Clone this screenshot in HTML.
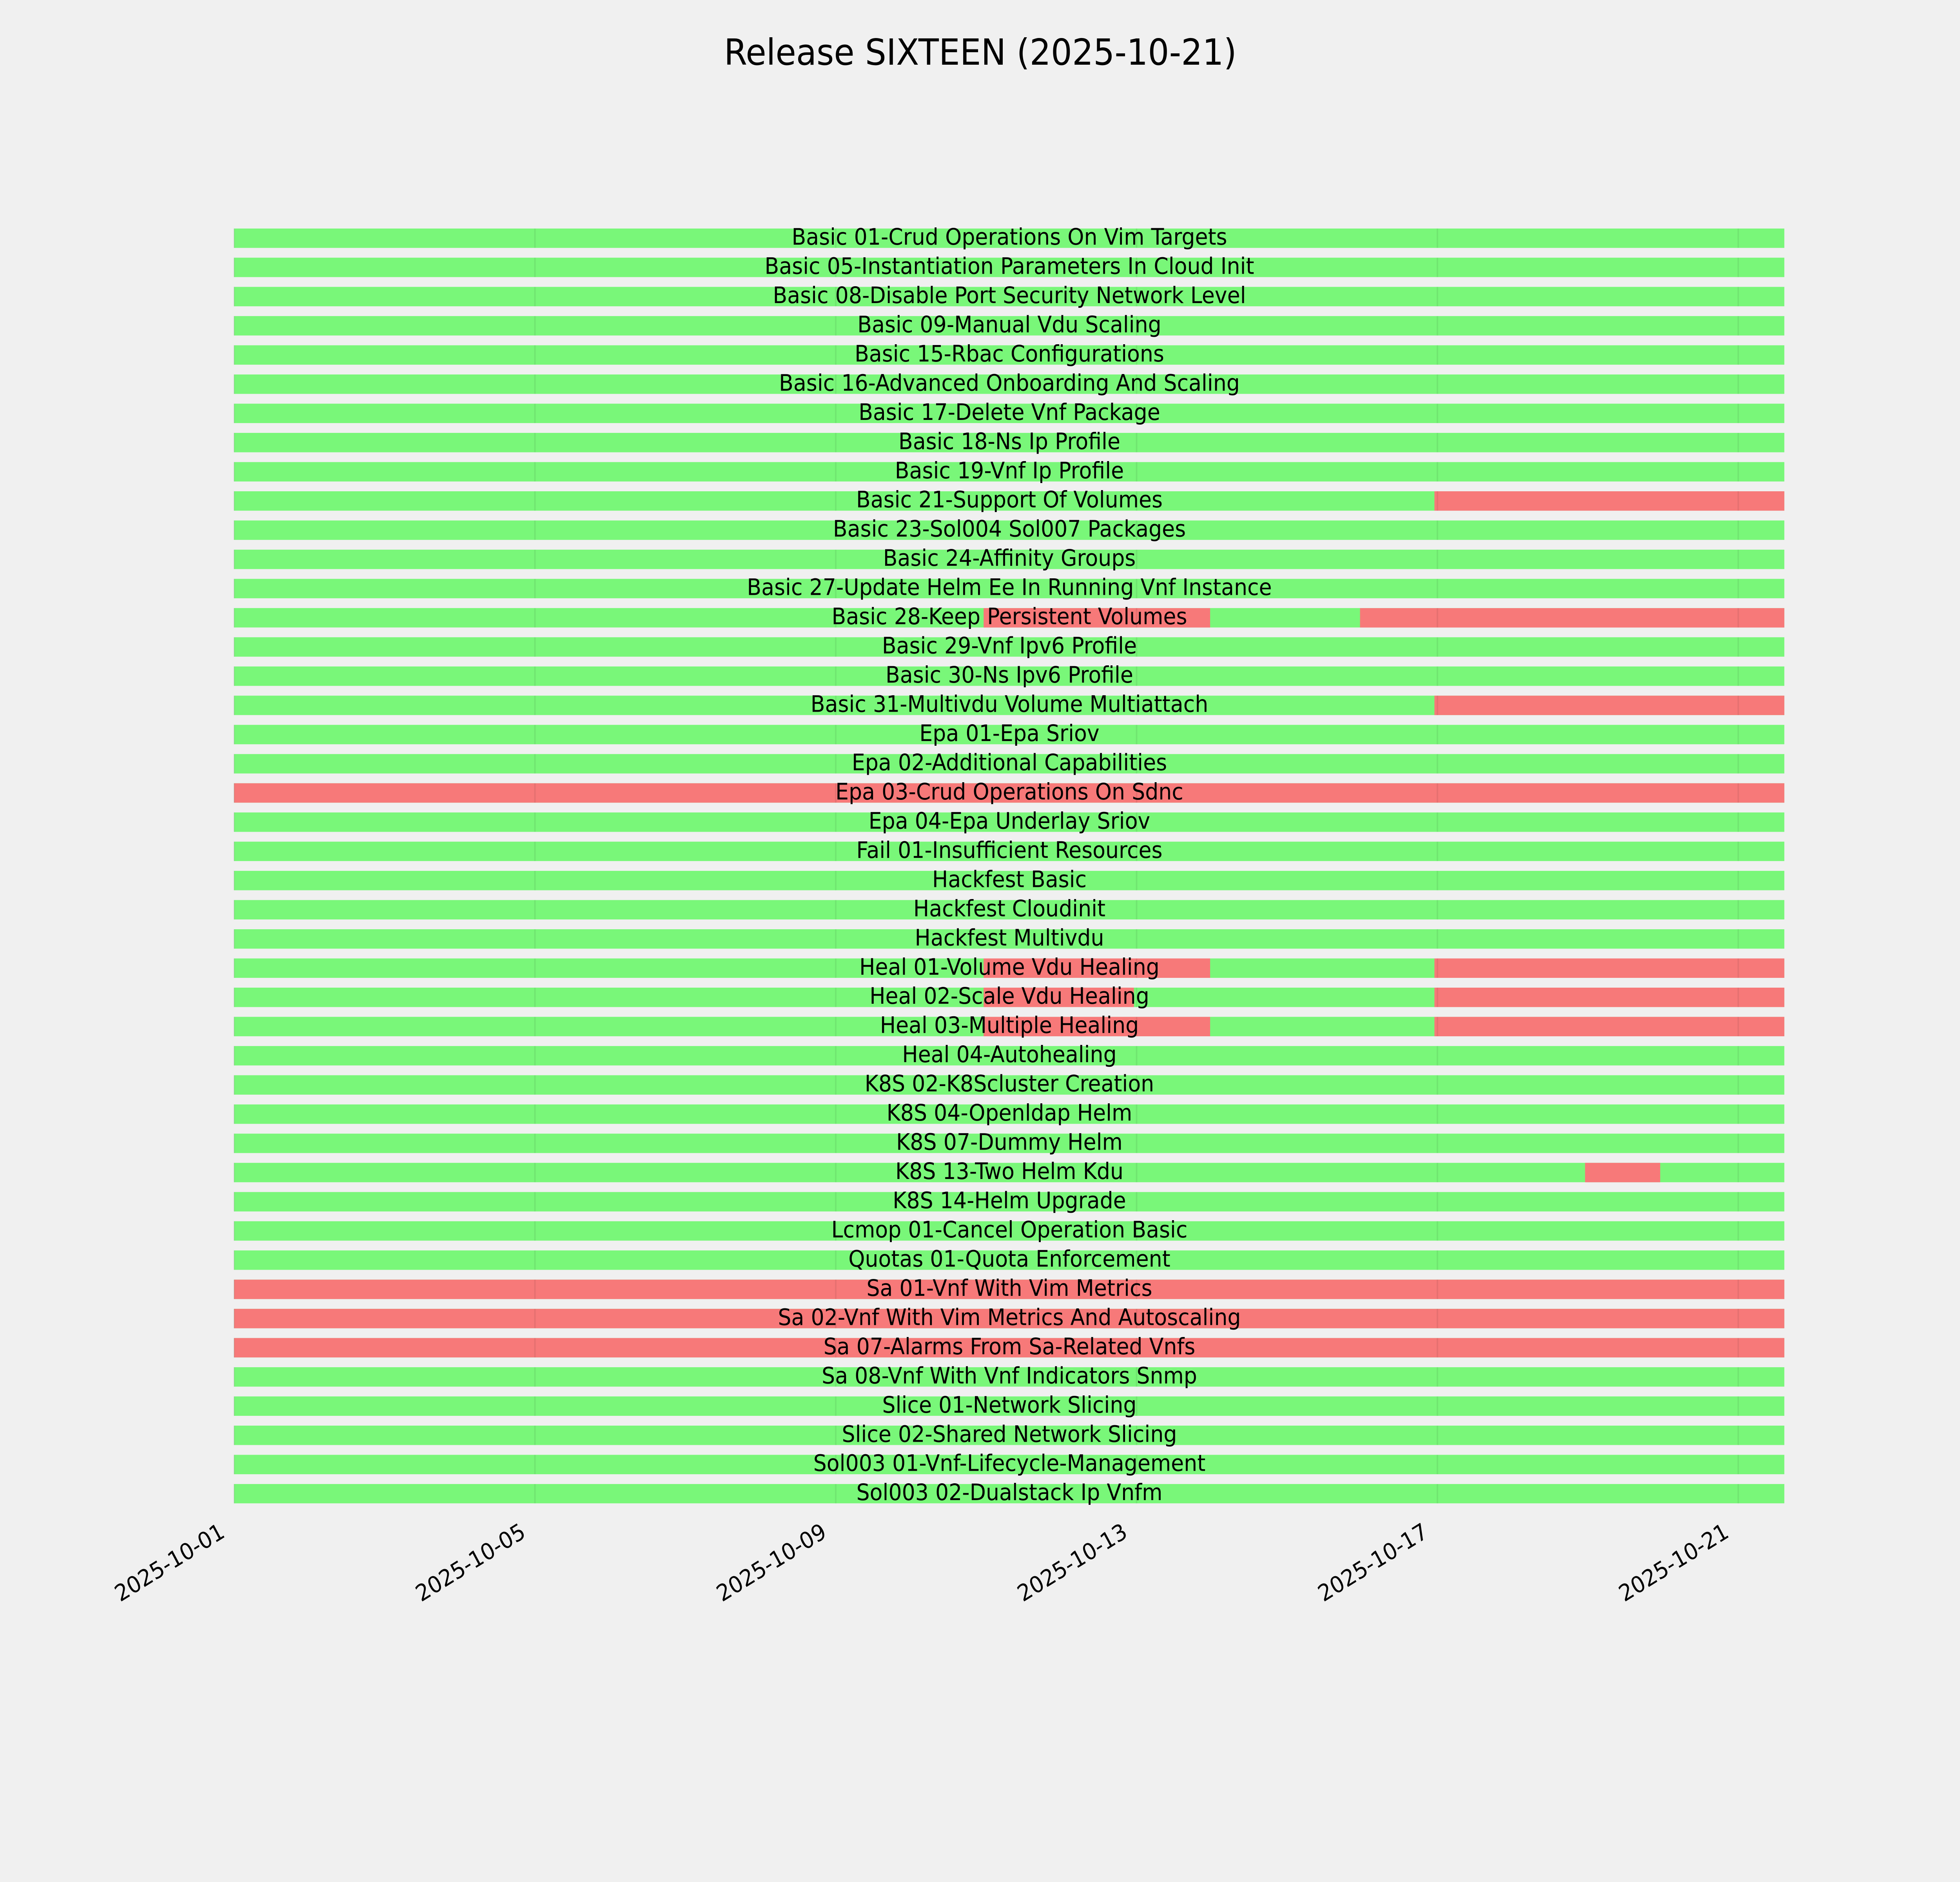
<!DOCTYPE html>
<html><head><meta charset="utf-8"><style>
html,body{margin:0;padding:0;background:#f0f0f0;width:100%;height:100%;overflow:hidden;}
svg{display:block;position:absolute;left:0;top:0;width:100vw;height:100vh;}
text{font-family:"DejaVu Sans","Liberation Sans",sans-serif;fill:#000;}
</style></head><body>
<svg viewBox="0 0 5400 4800" preserveAspectRatio="none" xmlns="http://www.w3.org/2000/svg">
<defs>
<pattern id="gbar" patternUnits="userSpaceOnUse" x="0" y="582.75" width="5400" height="74.47">
<rect x="0" y="0" width="5400" height="49.5" fill="#79f779"/>
</pattern>
<pattern id="grid" patternUnits="userSpaceOnUse" x="643" y="582.75" width="828.8" height="74.47">
<rect x="0" y="0" width="4" height="49.5" fill="#000" fill-opacity="0.07"/>
</pattern>
</defs>
<rect width="5400" height="4800" fill="#f0f0f0"/>
<text x="2701" y="165" font-size="92" text-anchor="middle">Release SIXTEEN (2025-10-21)</text>
<rect x="645" y="582.75" width="4271" height="3251.5" fill="url(#gbar)"/>
<g fill="#f77979">
<rect x="3952" y="1253" width="964" height="49.5"/>
<rect x="2710" y="1551" width="624" height="49.5"/>
<rect x="3747" y="1551" width="1169" height="49.5"/>
<rect x="3952" y="1774.3" width="964" height="49.5"/>
<rect x="645" y="1997.7" width="4271" height="49.5"/>
<rect x="2710" y="2444.5" width="624" height="49.5"/>
<rect x="3952" y="2444.5" width="964" height="49.5"/>
<rect x="2710" y="2519" width="414" height="49.5"/>
<rect x="3952" y="2519" width="964" height="49.5"/>
<rect x="2710" y="2593.5" width="624" height="49.5"/>
<rect x="3952" y="2593.5" width="964" height="49.5"/>
<rect x="4367" y="2965.8" width="207" height="49.5"/>
<rect x="645" y="3263.7" width="4271" height="49.5"/>
<rect x="645" y="3338.2" width="4271" height="49.5"/>
<rect x="645" y="3412.6" width="4271" height="49.5"/>
</g>
<rect x="643" y="582.75" width="4273" height="3251.5" fill="url(#grid)"/>
<g font-size="58" text-anchor="middle">
<text x="2781" y="624">Basic 01-Crud Operations On Vim Targets</text>
<text x="2781" y="698.5">Basic 05-Instantiation Parameters In Cloud Init</text>
<text x="2781" y="772.9">Basic 08-Disable Port Security Network Level</text>
<text x="2781" y="847.4">Basic 09-Manual Vdu Scaling</text>
<text x="2781" y="921.9">Basic 15-Rbac Configurations</text>
<text x="2781" y="996.4">Basic 16-Advanced Onboarding And Scaling</text>
<text x="2781" y="1070.8">Basic 17-Delete Vnf Package</text>
<text x="2781" y="1145.3">Basic 18-Ns Ip Profile</text>
<text x="2781" y="1219.8">Basic 19-Vnf Ip Profile</text>
<text x="2781" y="1294.2">Basic 21-Support Of Volumes</text>
<text x="2781" y="1368.7">Basic 23-Sol004 Sol007 Packages</text>
<text x="2781" y="1443.2">Basic 24-Affinity Groups</text>
<text x="2781" y="1517.6">Basic 27-Update Helm Ee In Running Vnf Instance</text>
<text x="2781" y="1592.1">Basic 28-Keep Persistent Volumes</text>
<text x="2781" y="1666.6">Basic 29-Vnf Ipv6 Profile</text>
<text x="2781" y="1741.1">Basic 30-Ns Ipv6 Profile</text>
<text x="2781" y="1815.5">Basic 31-Multivdu Volume Multiattach</text>
<text x="2781" y="1890">Epa 01-Epa Sriov</text>
<text x="2781" y="1964.5">Epa 02-Additional Capabilities</text>
<text x="2781" y="2038.9">Epa 03-Crud Operations On Sdnc</text>
<text x="2781" y="2113.4">Epa 04-Epa Underlay Sriov</text>
<text x="2781" y="2187.9">Fail 01-Insufficient Resources</text>
<text x="2781" y="2262.3">Hackfest Basic</text>
<text x="2781" y="2336.8">Hackfest Cloudinit</text>
<text x="2781" y="2411.3">Hackfest Multivdu</text>
<text x="2781" y="2485.8">Heal 01-Volume Vdu Healing</text>
<text x="2781" y="2560.2">Heal 02-Scale Vdu Healing</text>
<text x="2781" y="2634.7">Heal 03-Multiple Healing</text>
<text x="2781" y="2709.2">Heal 04-Autohealing</text>
<text x="2781" y="2783.6">K8S 02-K8Scluster Creation</text>
<text x="2781" y="2858.1">K8S 04-Openldap Helm</text>
<text x="2781" y="2932.6">K8S 07-Dummy Helm</text>
<text x="2781" y="3007">K8S 13-Two Helm Kdu</text>
<text x="2781" y="3081.5">K8S 14-Helm Upgrade</text>
<text x="2781" y="3156">Lcmop 01-Cancel Operation Basic</text>
<text x="2781" y="3230.5">Quotas 01-Quota Enforcement</text>
<text x="2781" y="3304.9">Sa 01-Vnf With Vim Metrics</text>
<text x="2781" y="3379.4">Sa 02-Vnf With Vim Metrics And Autoscaling</text>
<text x="2781" y="3453.9">Sa 07-Alarms From Sa-Related Vnfs</text>
<text x="2781" y="3528.3">Sa 08-Vnf With Vnf Indicators Snmp</text>
<text x="2781" y="3602.8">Slice 01-Network Slicing</text>
<text x="2781" y="3677.3">Slice 02-Shared Network Slicing</text>
<text x="2781" y="3751.7">Sol003 01-Vnf-Lifecycle-Management</text>
<text x="2781" y="3826.2">Sol003 02-Dualstack Ip Vnfm</text>
</g>
<g font-size="58" text-anchor="end">
<text transform="translate(623,3918) rotate(-30)">2025-10-01</text>
<text transform="translate(1452,3918) rotate(-30)">2025-10-05</text>
<text transform="translate(2281,3918) rotate(-30)">2025-10-09</text>
<text transform="translate(3110,3918) rotate(-30)">2025-10-13</text>
<text transform="translate(3938,3918) rotate(-30)">2025-10-17</text>
<text transform="translate(4767,3918) rotate(-30)">2025-10-21</text>
</g>
</svg>
</body></html>
